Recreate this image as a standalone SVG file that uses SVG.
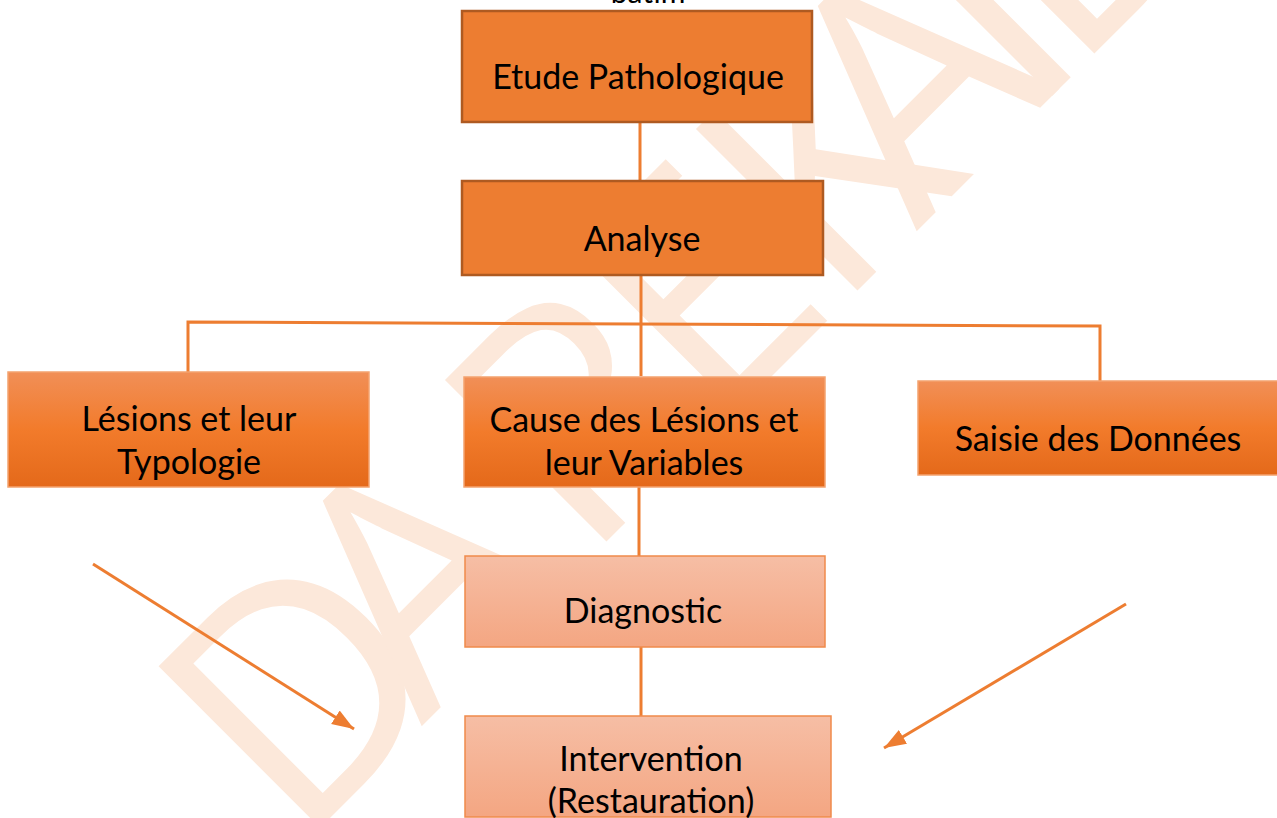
<svg xmlns="http://www.w3.org/2000/svg" width="1277" height="818" viewBox="0 0 1277 818">
<style>
.b1{fill:#ed7d31;stroke:#ae5a21;stroke-width:2.5}
.b2{fill:url(#g2);stroke:#f4a36f;stroke-width:1.5}
.b3{fill:url(#g3);stroke:#f08a4b;stroke-width:1.5}
.c{stroke:#ed7d31;stroke-width:3;fill:none}
.t{font-family:Lato,"Open Sans","Liberation Sans",sans-serif;font-size:34px;fill:#000;text-anchor:middle}
.wm{font-family:"Open Sans","Liberation Sans",sans-serif;font-size:320px;fill:#fce8da}
</style>
<defs>
<linearGradient id="g2" x1="0" y1="0" x2="0" y2="1">
<stop offset="0" stop-color="#f18f57"/><stop offset="0.5" stop-color="#f27b2b"/><stop offset="1" stop-color="#e4691a"/>
</linearGradient>
<linearGradient id="g3" x1="0" y1="0" x2="0" y2="1">
<stop offset="0" stop-color="#f6bea5"/><stop offset="1" stop-color="#f4a682"/>
</linearGradient>
<marker id="ah" markerUnits="userSpaceOnUse" markerWidth="24" markerHeight="18" refX="22" refY="9" orient="auto">
<path d="M0,1 L22,9 L0,17 Z" fill="#ed7d31"/>
</marker>
</defs>
<rect width="1277" height="818" fill="#fff"/>
<g id="watermark" transform="translate(298,850) rotate(-45)">
<text class="wm" x="0 175 405 590 760 875 1035 1095" y="0">DAREKAID</text>
</g>
<text class="t" x="648" y="3" style="font-size:30px">batim</text>
<g id="connectors">
<line class="c" x1="640" y1="122" x2="640" y2="181"/>
<line class="c" x1="641" y1="275" x2="641" y2="376"/>
<polyline class="c" points="188,372 188,322 1100,326 1100,381"/>
<line class="c" x1="639" y1="487" x2="639" y2="556"/>
<line class="c" x1="641" y1="647" x2="641" y2="716"/>
<line class="c" x1="93" y1="564" x2="354" y2="729" marker-end="url(#ah)"/>
<line class="c" x1="1126" y1="604" x2="884" y2="748" marker-end="url(#ah)"/>
</g>
<g id="etude">
<rect class="b1" x="462" y="11" width="350" height="111"/>
<text class="t" x="638" y="89">Etude Pathologique</text>
</g>
<g id="analyse">
<rect class="b1" x="462" y="181" width="361" height="94"/>
<text class="t" x="642" y="251">Analyse</text>
</g>
<g id="lesions">
<rect class="b2" x="8" y="372" width="361" height="115"/>
<text class="t" x="189" y="431">Lésions et leur</text>
<text class="t" x="189" y="474">Typologie</text>
</g>
<g id="cause">
<rect class="b2" x="464" y="377" width="361" height="110"/>
<text class="t" x="644" y="432">Cause des Lésions et</text>
<text class="t" x="644" y="475">leur Variables</text>
</g>
<g id="saisie">
<rect class="b2" x="918" y="381" width="360" height="94"/>
<text class="t" x="1098" y="451">Saisie des Données</text>
</g>
<g id="diagnostic">
<rect class="b3" x="465" y="556" width="360" height="91"/>
<text class="t" x="643" y="623">Diagnostic</text>
</g>
<g id="intervention">
<rect class="b3" x="465" y="716" width="366" height="101"/>
<text class="t" x="651" y="771">Intervention</text>
<text class="t" x="651" y="813">(Restauration)</text>
</g>
</svg>
